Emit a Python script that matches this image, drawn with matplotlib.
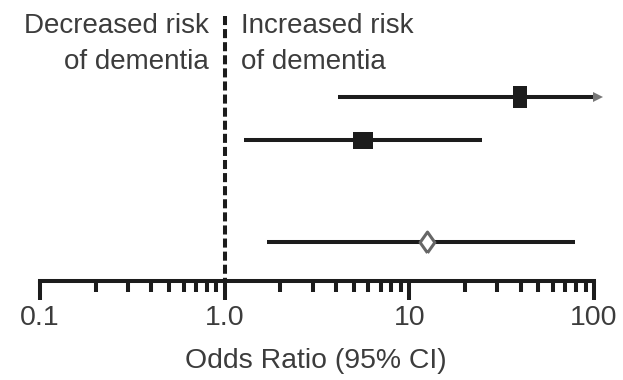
import matplotlib.pyplot as plt
from matplotlib.ticker import LogLocator, NullFormatter, FixedLocator

# values
odds = [39.7, 5.6, 12.5]
lower = [4.1, 1.27, 1.69]
upper = [105, 24.7, 78.9]
rows = [1, 2, 4.37]
ticks = [0.1, 1, 10, 100]
tick_labels = ['0.1', '1.0', '10', '100']

plt.rcParams['font.family'] = ['Liberation Sans', 'DejaVu Sans']

W, H = 623, 380
fig = plt.figure(figsize=(W / 100, H / 100), dpi=100)
ax = fig.add_axes([40 / W, 1 - 281 / H, 554 / W, 265 / H])

ink = '#1c1c1c'
txt = '#3c3c3c'

# rectangle markers (the boxes are not quite square in the original)
tall_box = [(-7, -11), (7, -11), (7, 11), (-7, 11), (-7, -11)]
wide_box = [(-10, -8.5), (10, -8.5), (10, 8.5), (-10, 8.5), (-10, -8.5)]
diamond = [(0, -12), (8.5, 0), (0, 12), (-8.5, 0), (0, -12)]

for lo, hi, y in zip(lower, upper, rows):
    ax.plot([lo, hi], [y, y], color=ink, lw=2.9, solid_capstyle='butt', zorder=2)

ax.plot(odds[0], rows[0], marker=tall_box, ms=15.8, color=ink, mew=0, zorder=3)
ax.plot(odds[1], rows[1], marker=wide_box, ms=14.4, color=ink, mew=0, zorder=3)
ax.plot(odds[2], rows[2], marker=diamond, ms=15, mfc='white', mec='#666666', mew=2.2, zorder=3)

# arrow: interval runs off the scale
ax.plot(upper[0], rows[0], marker='>', ms=7, color='#777777', mew=0, zorder=3, clip_on=False)

ylo, yhi = 5.28, -0.884
ax.plot([1, 1], [yhi, ylo], color=ink, lw=2.9, ls=(0, (2.25, 1.0)), zorder=1, clip_on=False)

ax.set_xscale('log')
ax.set_xlim(0.1, 100)
ax.set_ylim(ylo, yhi)
ax.xaxis.set_major_locator(FixedLocator(ticks))
ax.set_xticklabels(tick_labels)
ax.xaxis.set_minor_locator(LogLocator(base=10, subs=range(2, 10)))
ax.xaxis.set_minor_formatter(NullFormatter())
ax.tick_params(axis='x', which='major', length=13.7, width=2.9, color=ink,
               labelsize=20.5, labelcolor=txt, pad=3.5)
ax.tick_params(axis='x', which='minor', length=8, width=2.9, color=ink)
ax.set_yticks([])
for s in ['top', 'left', 'right']:
    ax.spines[s].set_visible(False)
ax.spines['bottom'].set_linewidth(2.9)
ax.spines['bottom'].set_color(ink)
ax.spines['bottom'].set_capstyle('projecting')

fig.text(316 / W, 1 - 368 / H, 'Odds Ratio (95% CI)', ha='center', va='baseline',
         fontsize=20.4, color=txt)

fig.text(209 / W, 1 - 33 / H, 'Decreased risk', ha='right', va='baseline', fontsize=20, color=txt)
fig.text(209 / W, 1 - 69 / H, 'of dementia', ha='right', va='baseline', fontsize=20, color=txt)
fig.text(241 / W, 1 - 33 / H, 'Increased risk', ha='left', va='baseline', fontsize=20, color=txt)
fig.text(241 / W, 1 - 69 / H, 'of dementia', ha='left', va='baseline', fontsize=20, color=txt)

fig.savefig('out.png', dpi=100)
